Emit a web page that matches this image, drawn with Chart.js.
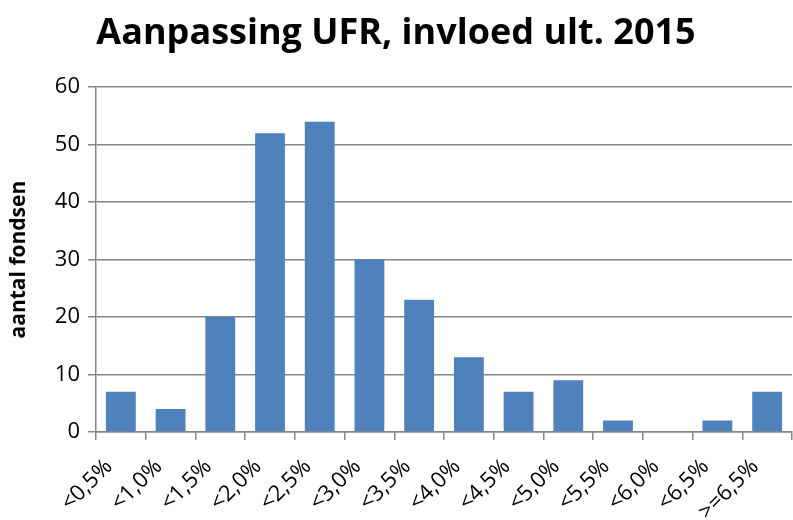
<!DOCTYPE html>
<html>
<head>
<meta charset="utf-8">
<script src="https://cdn.jsdelivr.net/npm/chart.js@4/dist/chart.umd.min.js"></script>
<style>
  html, body { margin: 0; padding: 0; background: #fff; }
  #wrap { width: 793px; height: 520px; }
</style>
</head>
<body>
<div id="wrap"><canvas id="myChart" width="793" height="520"></canvas></div>
<script>
const categories = ['<0,5%', '<1,0%', '<1,5%', '<2,0%', '<2,5%', '<3,0%', '<3,5%',
  '<4,0%', '<4,5%', '<5,0%', '<5,5%', '<6,0%', '<6,5%', '>=6,5%'];
const aantal = [7, 4, 20, 52, 54, 30, 23, 13, 7, 9, 2, 0, 2, 7];
const yTicks = [0, 10, 20, 30, 40, 50, 60];

const fontFam = "'Open Sans', 'Liberation Sans', sans-serif";

const data = {
  labels: categories,
  datasets: [{
    label: 'aantal fondsen',
    data: aantal,
    backgroundColor: '#4F81BD',
    barPercentage: 0.6,
    categoryPercentage: 1.0
  }]
};

const config = {
  type: 'bar',
  data: data,
  options: {
    responsive: false,
    animation: false,
    layout: { padding: { left: 0, right: 1, top: 12, bottom: 0 } },
    plugins: {
      legend: { display: false },
      tooltip: { enabled: false },
      title: {
        display: true,
        text: 'Aanpassing UFR, invloed ult. 2015',
        color: '#000',
        font: { family: fontFam, size: 36, weight: 'bold' },
        padding: { top: 0, bottom: 32 }
      }
    },
    scales: {
      x: {
        afterFit: (axis) => {
          axis.height = 88;
          axis.paddingRight = 0;
          axis.paddingLeft = 0;
        },
        grid: {
          offset: true,
          drawOnChartArea: false,
          drawTicks: true,
          tickLength: 8,
          color: '#868686',
          lineWidth: 1.5
        },
        border: { color: '#868686', width: 1.5 },
        ticks: {
          color: '#000',
          font: { family: fontFam, size: 22 },
          minRotation: 45,
          maxRotation: 45,
          padding: 14,
          labelOffset: -12,
          autoSkip: false
        }
      },
      y: {
        min: 0,
        max: 60,
        afterFit: (axis) => { axis.width = 96; },
        afterBuildTicks: (axis) => { axis.ticks = yTicks.map(v => ({ value: v })); },
        grid: {
          color: '#868686',
          lineWidth: 1.5,
          tickLength: 8
        },
        border: { color: '#868686', width: 1.5 },
        ticks: {
          color: '#000',
          font: { family: fontFam, size: 22 },
          padding: 8
        },
        title: {
          display: true,
          text: 'aantal fondsen',
          color: '#000',
          font: { family: fontFam, size: 21, weight: 'bold' },
          padding: { top: 6, bottom: 0 }
        }
      }
    }
  }
};

const myChart = new Chart(document.getElementById('myChart'), config);
</script>
</body>
</html>
